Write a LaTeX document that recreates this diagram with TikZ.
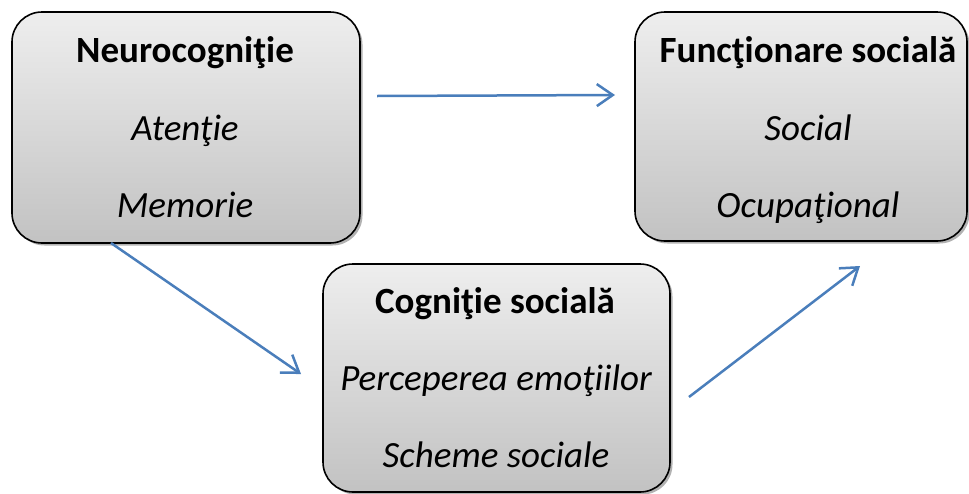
\documentclass[tikz,border=0pt]{standalone}
\usepackage{fontspec}
\setmainfont{Carlito}
\usetikzlibrary{arrows.meta,shadows}
\definecolor{boxtop}{HTML}{EEEEEE}
\definecolor{boxbot}{HTML}{C2C2C2}
\definecolor{arrowblue}{HTML}{4A7EBB}
\tikzset{
  box/.style={draw=black, line width=1.6pt, rounded corners=30pt,
    top color=boxtop, bottom color=boxbot, inner sep=0pt,
    drop shadow={shadow xshift=2.5pt, shadow yshift=-2.5pt, fill=black, opacity=0.3}},
  titletxt/.style={anchor=base, inner sep=0pt, font=\fontsize{37}{40}\selectfont\bfseries},
  itemtxt/.style={anchor=base, inner sep=0pt, font=\fontsize{37}{40}\selectfont\itshape},
  link/.style={draw=arrowblue, line width=2.5pt,
    -{Straight Barb[length=16pt,width=22pt,line width=2.5pt]}}
}
\begin{document}
\begin{tikzpicture}[x=1pt,y=-1pt]
\useasboundingbox (0,0) rectangle (969,493);
% boxes
\node[box, minimum width=348pt, minimum height=231pt] (neuro) at (186,127.5) {};
\node[box, minimum width=332pt, minimum height=229pt] (func) at (801,126.5) {};
\node[box, minimum width=347pt, minimum height=228pt] (cogn) at (496.5,378) {};
% texts
\node[titletxt] (neuroT) at (185,62) {Neurocogniţie};
\node[itemtxt] (neuroA) at (185,140) {Atenţie};
\node[itemtxt] (neuroB) at (185,217) {Memorie};
\node[titletxt] (funcT) at (808,62) {Funcţionare socială};
\node[itemtxt] (funcA) at (808,140) {Social};
\node[itemtxt] (funcB) at (808,217) {Ocupaţional};
\node[titletxt] (cognT) at (495,313) {Cogniţie socială};
\node[itemtxt] (cognA) at (496,390) {Perceperea emoţiilor};
\node[itemtxt] (cognB) at (496,467) {Scheme sociale};
% connector ends
\coordinate (a1s) at (377,96);
\coordinate (a1e) at (615,95);
\coordinate (a2s) at (111,243);
\coordinate (a2e) at (301,374);
\coordinate (a3s) at (689,397);
\coordinate (a3e) at (860,266);
\draw[link] (a1s) -- (a1e);
\draw[link] (a2s) -- (a2e);
\draw[link] (a3s) -- (a3e);
\end{tikzpicture}
\end{document}
